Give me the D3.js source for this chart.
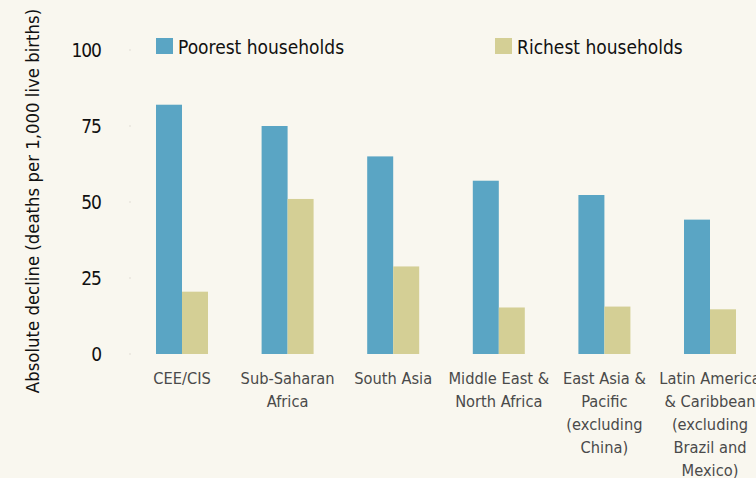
<!DOCTYPE html>
<html>
<head>
<meta charset="utf-8">
<script src="https://cdn.jsdelivr.net/npm/d3@7"></script>
<style>
  html, body { margin: 0; padding: 0; background: #f9f7ef; }
  svg { display: block; }
</style>
</head>
<body>
<div id="chart"></div>
<script>
// categories, one label line per entry
const regions = ["CEE/CIS", "Sub-Saharan Africa", "South Asia", "Middle East & North Africa",
  "East Asia & Pacific (excluding China)", "Latin America & Caribbean (excluding Brazil and Mexico)"];
const regionLines = [
  ["CEE/CIS"],
  ["Sub-Saharan", "Africa"],
  ["South Asia"],
  ["Middle East &", "North Africa"],
  ["East Asia &", "Pacific", "(excluding", "China)"],
  ["Latin America", "& Caribbean", "(excluding", "Brazil and", "Mexico)"]
];
const seriesNames = ["Poorest households", "Richest households"];
const poorest = [82, 75, 65, 57, 52.3, 44.2];
const richest = [20.5, 51, 28.8, 15.3, 15.6, 14.7];
const yTicks = [0, 25, 50, 75, 100];

const width = 756, height = 478;
const font = "'Liberation Sans Narrow', 'DejaVu Sans Condensed', sans-serif";
const colors = ["#5aa5c4", "#d4cf95"];

const svg = d3.select("#chart").append("svg")
  .attr("width", width)
  .attr("height", height)
  .style("background", "#f9f7ef");

// scales
const x = d3.scaleBand()
  .domain(regions)
  .range([129.6, 762.4])
  .paddingInner(0.5076)
  .paddingOuter(0.25);

const xSeries = d3.scaleBand()
  .domain(seriesNames)
  .range([0, x.bandwidth()]);

const y = d3.scaleLinear()
  .domain([0, 100])
  .range([354, 50]);

// y axis: tiny dot ticks and labels
const yAxis = svg.append("g");
yAxis.selectAll("circle")
  .data(yTicks)
  .enter()
  .append("circle")
    .attr("cx", 130)
    .attr("cy", d => y(d))
    .attr("r", 0.8)
    .attr("fill", "#dcdad2");
yAxis.selectAll("text")
  .data(yTicks)
  .enter()
  .append("text")
    .attr("x", 101)
    .attr("y", d => y(d))
    .attr("dy", "0.35em")
    .attr("text-anchor", "end")
    .attr("font-family", font)
    .attr("font-size", 19)
    .attr("letter-spacing", -1)
    .attr("fill", "#111111")
    .text(d => d);

// axis title
svg.append("text")
  .attr("transform", "translate(33,201) rotate(-90)")
  .attr("text-anchor", "middle")
  .attr("dy", "0.35em")
  .attr("font-family", font)
  .attr("font-size", 18.4)
  .attr("fill", "#111111")
  .text("Absolute decline (deaths per 1,000 live births)");

// bars
const rows = regions.map((r, i) => ({ region: r, values: [poorest[i], richest[i]] }));

const groups = svg.append("g")
  .selectAll("g")
  .data(rows)
  .enter()
  .append("g")
    .attr("transform", d => "translate(" + x(d.region) + ",0)");

groups.selectAll("rect")
  .data(d => d.values.map((v, j) => ({ key: seriesNames[j], value: v, j: j })))
  .enter()
  .append("rect")
    .attr("x", d => xSeries(d.key))
    .attr("y", d => y(d.value))
    .attr("width", xSeries.bandwidth())
    .attr("height", d => y(0) - y(d.value))
    .attr("fill", d => colors[d.j]);

// category labels
groups.append("text")
  .attr("x", x.bandwidth() / 2)
  .attr("y", 384)
  .attr("text-anchor", "middle")
  .attr("font-family", font)
  .attr("font-size", 16.3)
  .attr("fill", "#4a4a4a")
  .selectAll("tspan")
  .data((d, i) => regionLines[i])
  .enter()
  .append("tspan")
    .attr("x", x.bandwidth() / 2)
    .attr("dy", (d, i) => i === 0 ? 0 : 23)
    .text(d => d);

// legend
const legendX = [156, 495];
const legend = svg.append("g")
  .selectAll("g")
  .data(seriesNames)
  .enter()
  .append("g")
    .attr("transform", (d, i) => "translate(" + legendX[i] + ",38)");
legend.append("rect")
  .attr("width", 17)
  .attr("height", 16)
  .attr("fill", (d, i) => colors[i]);
legend.append("text")
  .attr("x", 22)
  .attr("y", 9)
  .attr("dy", "0.35em")
  .attr("font-family", font)
  .attr("font-size", 19)
  .attr("fill", "#111111")
  .text(d => d);
</script>
</body>
</html>
